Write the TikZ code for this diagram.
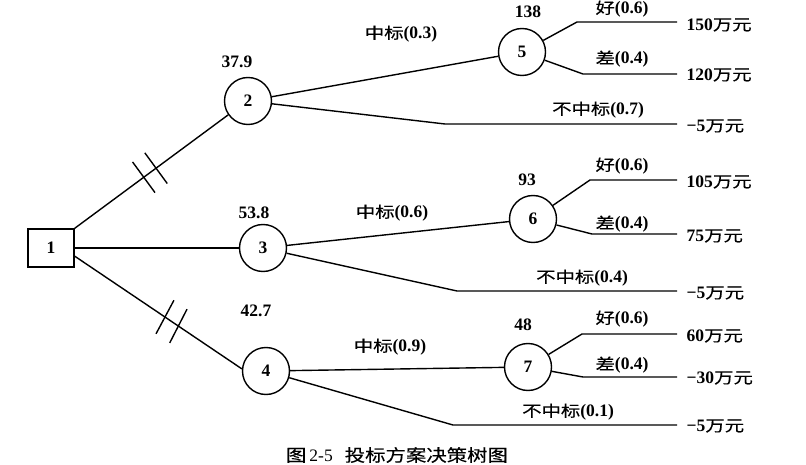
\documentclass[tikz,border=0pt]{standalone}
\usepackage{fontspec}
\setmainfont{Liberation Serif}
\newfontfamily\cjkf[FakeStretch=1.25,FakeBold=0.4]{Noto Sans CJK SC}
\newfontfamily\cjkcapf[FakeStretch=1.2,FakeBold=0.2]{Noto Sans CJK SC}
\newcommand\cj[1]{{\fontsize{15.5}{18}\cjkf\mdseries #1}}
\newcommand\cjcap[1]{{\fontsize{17}{19}\cjkcapf\mdseries #1}}
\usetikzlibrary{calc}
\begin{document}
\begin{tikzpicture}[x=1pt,y=-1pt,line width=1.4pt,
  every node/.style={font=\fontsize{17.5}{20}\selectfont\bfseries,inner sep=0pt},
  chance/.style={draw,circle,minimum size=47pt,inner sep=0pt},
  decision/.style={draw,rectangle,minimum width=46pt,minimum height=38pt},
  val/.style={anchor=west},
  caption/.style={font=\fontsize{17.5}{20}\selectfont\mdseries},
  hashline/.style={line width=1.4pt}]
\useasboundingbox (0,0) rectangle (806,465);
% nodes
\node[decision] (n1) at (51,248) {1};
\node[chance] (n2) at (248,101) {2};
\node[chance] (n3) at (263,248) {3};
\node[chance] (n4) at (266,371) {4};
\node[chance] (n5) at (522,52) {5};
\node[chance] (n6) at (533,219) {6};
\node[chance] (n7) at (528,367) {7};
% corner / end points
\coordinate (a5) at (577,22);  \coordinate (ea5) at (677,22);
\coordinate (b5) at (583,74);  \coordinate (eb5) at (677,74);
\coordinate (k2) at (445,124); \coordinate (ek2) at (677,124);
\coordinate (a6) at (590,180); \coordinate (ea6) at (677,180);
\coordinate (b6) at (592,234); \coordinate (eb6) at (677,234);
\coordinate (k3) at (457,291); \coordinate (ek3) at (677,291);
\coordinate (a7) at (582,334); \coordinate (ea7) at (677,334);
\coordinate (b7) at (583,377); \coordinate (eb7) at (677,377);
\coordinate (k4) at (453,425); \coordinate (ek4) at (677,425);
% main branches
\draw (n1.north east) -- (n2.215) coordinate[pos=0.45] (h2a) coordinate[pos=0.53] (h2b);
\draw (n1.east) -- (n3.west);
\draw (n1.-19) -- (n4.175) coordinate[pos=0.54] (h4a) coordinate[pos=0.62] (h4b);
% hash marks
\foreach \h/\t in {h2a/n2,h2b/n2,h4a/n4,h4b/n4}{
  \draw[hashline] ($(\h)!19pt!90:(\t)$) -- ($(\h)!19pt!-90:(\t)$);
}
% second level
\draw (n2) -- (n5);
\draw (n2) -- (k2) -- (ek2);
\draw (n3) -- (n6);
\draw (n3) -- (k3) -- (ek3);
\draw (n4) -- (n7);
\draw (n4) -- (k4) -- (ek4);
% third level
\draw (n5) -- (a5) -- (ea5);
\draw (n5) -- (b5) -- (eb5);
\draw (n6) -- (a6) -- (ea6);
\draw (n6) -- (b6) -- (eb6);
\draw (n7) -- (a7) -- (ea7);
\draw (n7) -- (b7) -- (eb7);
% expected values
\node (v2) at (237,62) {37.9};
\node (v3) at (254,213) {53.8};
\node (v4) at (256,311) {42.7};
\node (v5) at (528,12) {138};
\node (v6) at (527,180) {93};
\node (v7) at (523,325) {48};
% branch labels
\node (l25) at (401,34) {\cj{中标}(0.3)};
\node (l2k) at (598,110) {\cj{不中标}(0.7)};
\node (l36) at (392,213) {\cj{中标}(0.6)};
\node (l3k) at (582,278) {\cj{不中标}(0.4)};
\node (l47) at (390,347) {\cj{中标}(0.9)};
\node (l4k) at (568,412) {\cj{不中标}(0.1)};
\node (g5) at (622,9) {\cj{好}(0.6)};
\node (c5) at (622,59) {\cj{差}(0.4)};
\node (g6) at (622,166) {\cj{好}(0.6)};
\node (c6) at (622,224) {\cj{差}(0.4)};
\node (g7) at (622,319) {\cj{好}(0.6)};
\node (c7) at (622,365) {\cj{差}(0.4)};
% values
\node[val] (r1) at (686,25) {150\cj{万元}};
\node[val] (r2) at (686,75) {120\cj{万元}};
\node[val] (r3) at (686,126) {−5\cj{万元}};
\node[val] (r4) at (686,182) {105\cj{万元}};
\node[val] (r5) at (686,236) {75\cj{万元}};
\node[val] (r6) at (686,293) {−5\cj{万元}};
\node[val] (r7) at (686,336) {60\cj{万元}};
\node[val] (r8) at (686,378) {−30\cj{万元}};
\node[val] (r9) at (686,426) {−5\cj{万元}};
% caption
\node[caption] (cap) at (397,455) {\cjcap{图}\hspace{3pt}2-5\hspace{12pt}\cjcap{投标方案决策树图}};
\end{tikzpicture}
\end{document}
